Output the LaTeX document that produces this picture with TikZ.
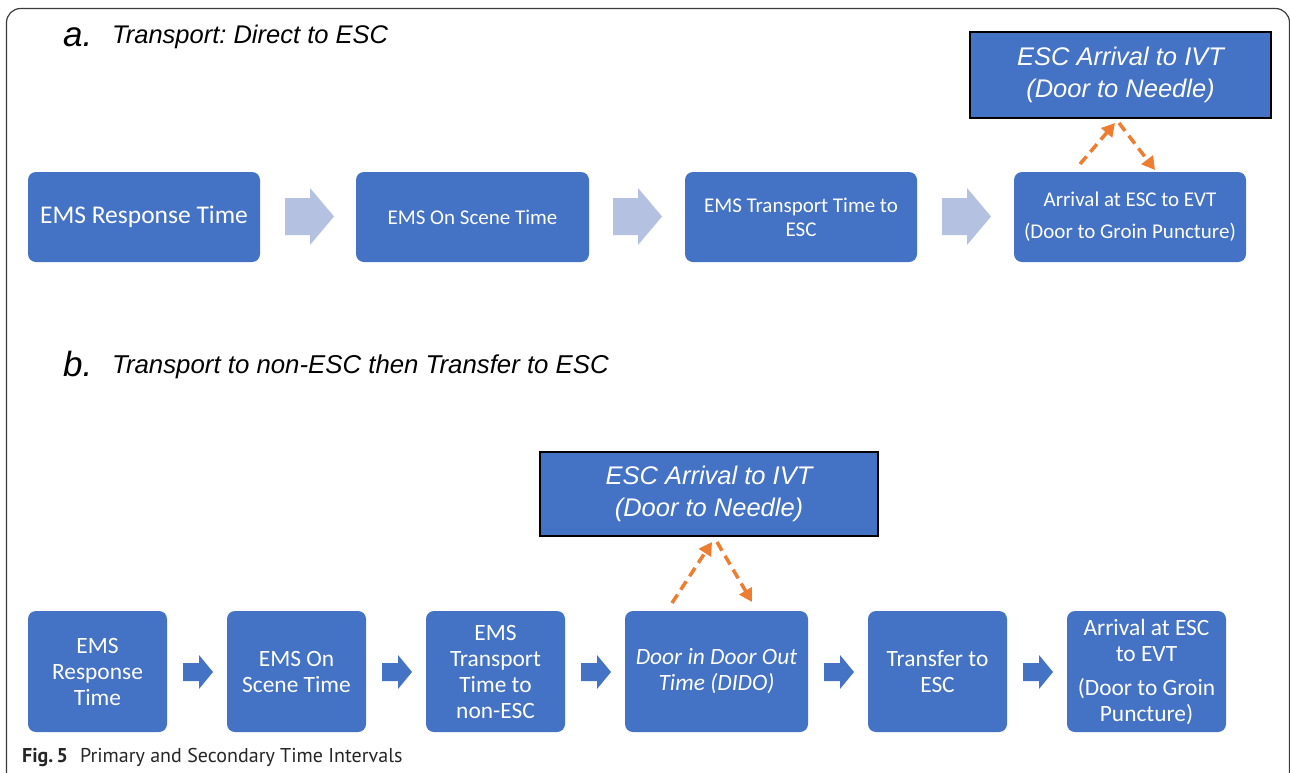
\documentclass[tikz,border=0pt]{standalone}
\usepackage{fontspec}
\setmainfont{Carlito}
\newfontfamily\arialf{Liberation Sans}
\newfontfamily\capf{PT Sans}
\usetikzlibrary{arrows.meta}
\definecolor{boxblue}{RGB}{68,114,196}
\definecolor{lightarr}{RGB}{180,193,225}
\definecolor{orng}{RGB}{237,125,49}
\definecolor{frame}{RGB}{60,60,60}
\frenchspacing
\tikzset{
  box/.style={fill=boxblue, draw=none, rounded corners=8pt, text=white, align=center, inner sep=2pt},
  topbox/.style={fill=boxblue, draw=black, line width=1.6pt, text=white, align=center,
     font=\arialf\itshape\fontsize{25.5}{32}\selectfont},
  fontA/.style={font=\fontsize{21}{24}\selectfont},
  fontB/.style={font=\fontsize{23.4}{26}\selectfont},
  dasharr/.style={orng, line width=3.5pt, dash pattern=on 10pt off 6pt,
     -{Triangle[length=13pt,width=14pt]}},
  hdr/.style={anchor=base west, inner sep=0pt},
}
\begin{document}
\begin{tikzpicture}[x=1pt,y=-1pt]
\useasboundingbox (0,0) rectangle (1290,772);
\fill[white] (0,0) rectangle (1290,772);
\begin{scope}
\clip (0,0) rectangle (1290,772);
\draw[frame, line width=1.2pt, rounded corners=14pt] (6.5,830) -- (6.5,8.5) -- (1289.5,8.5) -- (1289.5,830);
\end{scope}

% headers
\node[hdr, font=\arialf\fontsize{35}{35}\selectfont] (ha) at (63,46) {\itshape a.};
\node[hdr, font=\arialf\itshape\fontsize{25.5}{30}\selectfont] (hat) at (112,43) {Transport: Direct to ESC};
\node[hdr, font=\arialf\fontsize{35}{35}\selectfont] (hb) at (63,376) {\itshape b.};
\node[hdr, font=\arialf\itshape\fontsize{25.8}{30}\selectfont] (hbt) at (112,373) {Transport to non-ESC then Transfer to ESC};

% ---- row a ----
\node[box, minimum width=232pt, minimum height=90pt, font=\fontsize{25.5}{30}\selectfont] (a1) at (144,217) {EMS Response Time};
\node[box, minimum width=233pt, minimum height=90pt, fontA] (a2) at (472.5,217) {EMS On Scene Time};
\node[box, minimum width=232pt, minimum height=90pt, fontA] (a3) at (801,217) {EMS Transport Time to\\ESC};
\node[box, minimum width=232pt, minimum height=90pt, font=\fontsize{21}{32}\selectfont] (a4) at (1130,217) {Arrival at ESC to EVT\\(Door to Groin Puncture)};
\node[topbox, minimum width=301pt, minimum height=86pt] (at) at (1120.5,75) {ESC Arrival to IVT\\(Door to Needle)};

\foreach \x in {285,613,942}{
  \fill[lightarr] (\x,198) -- (\x+25,198) -- (\x+25,188) -- (\x+49,216.5) -- (\x+25,245) -- (\x+25,235) -- (\x,235) -- cycle;
}
\coordinate (au1) at (1080,164);
\coordinate (ad2) at (1155,170);
\draw[dasharr] (au1) -- (1115,123);
\draw[dasharr] (1119,123) -- (ad2);

% ---- row b ----
\node[box, minimum width=139pt, minimum height=121pt, fontB] (b1) at (97.5,671.5) {EMS\\Response\\Time};
\node[box, minimum width=139pt, minimum height=121pt, fontB] (b2) at (296.5,671.5) {EMS On\\Scene Time};
\node[box, minimum width=139pt, minimum height=121pt, fontB] (b3) at (495.5,671.5) {EMS\\Transport\\Time to\\non-ESC};
\node[box, minimum width=183pt, minimum height=121pt, fontB] (b4) at (716.5,671.5) {\itshape Door in Door Out\\\itshape Time (DIDO)};
\node[box, minimum width=139pt, minimum height=121pt, fontB] (b5) at (937.5,671.5) {Transfer to\\ESC};
\node[box, minimum width=159pt, minimum height=121pt, fontB] (b6) at (1146.5,671.5) {Arrival at ESC\\to EVT\\[8pt](Door to Groin\\Puncture)};
\node[topbox, minimum width=338pt, minimum height=84pt] (bt) at (709,494) {ESC Arrival to IVT\\(Door to Needle)};

\foreach \x in {183,382,581,824,1023}{
  \fill[boxblue] (\x,663) -- (\x+16,663) -- (\x+16,655) -- (\x+30,672) -- (\x+16,689) -- (\x+16,681) -- (\x,681) -- cycle;
}
\draw[dasharr] (672,603) -- (712,542);
\draw[dasharr] (717,542) -- (752,602);

% caption
\node[hdr, font=\capf\fontsize{20}{22}\selectfont, text=black!85] (cap) at (22,762) {\textbf{Fig.\,5}\hspace{12pt}Primary and Secondary Time Intervals};
\end{tikzpicture}
\end{document}
